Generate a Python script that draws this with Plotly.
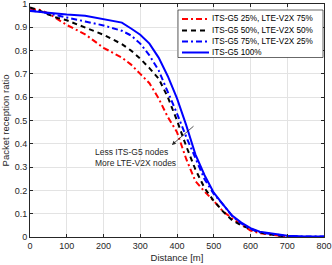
import plotly.graph_objects as go

distance = [0, 25, 50, 75, 100, 150, 200, 250, 275, 300, 325, 350, 375, 400, 425, 450,
            475, 500, 525, 550, 575, 600, 625, 650, 675, 700, 750, 800]

prr_25 = [0.98, 0.975, 0.96, 0.935, 0.91, 0.87, 0.812, 0.77, 0.74, 0.70, 0.66, 0.595, 0.515,
          0.45, 0.335, 0.24, 0.195, 0.155, 0.11, 0.08, 0.055, 0.028, 0.016, 0.01, 0.004,
          0.001, 0.0, 0.0]
prr_50 = [0.985, 0.972, 0.955, 0.94, 0.93, 0.9, 0.868, 0.828, 0.8, 0.765, 0.725, 0.68, 0.6,
          0.5, 0.39, 0.29, 0.21, 0.155, 0.11, 0.072, 0.05, 0.035, 0.02, 0.012, 0.005,
          0.001, 0.0, 0.0]
prr_75 = [0.972, 0.968, 0.96, 0.95, 0.942, 0.925, 0.908, 0.885, 0.865, 0.83, 0.78, 0.715,
          0.625, 0.53, 0.43, 0.335, 0.248, 0.185, 0.14, 0.09, 0.058, 0.035, 0.02, 0.014,
          0.01, 0.004, 0.002, 0.002]
prr_100 = [0.97, 0.966, 0.962, 0.958, 0.955, 0.95, 0.935, 0.92, 0.895, 0.868, 0.83, 0.77,
           0.69, 0.595, 0.48, 0.355, 0.265, 0.19, 0.14, 0.092, 0.062, 0.038, 0.023, 0.018,
           0.013, 0.005, 0.002, 0.002]

series_names = ["ITS-G5 25%, LTE-V2X 75%", "ITS-G5 50%, LTE-V2X 50%",
                "ITS-G5 75%, LTE-V2X 25%", "ITS-G5 100%"]
series_values = [prr_25, prr_50, prr_75, prr_100]
series_colors = ["#ff0000", "#000000", "#0000ff", "#0000ff"]
series_dashes = ["6px,3px,2px,3px", "5px,4px", "6px,3px,2px,3px", "solid"]

annotation_text = "Less ITS-G5 nodes<br>More LTE-V2X nodes"

FONT = "Liberation Sans, Arial, sans-serif"
AX = "#262626"

fig = go.Figure()
for name, vals, color, dash in zip(series_names, series_values, series_colors, series_dashes):
    fig.add_trace(go.Scatter(x=distance, y=vals, mode="lines", name=name,
                             showlegend=False,
                             line=dict(color=color, width=2, dash=dash)))

# legend drawn manually (compact, MATLAB-like)
PL, PR, PT, PB = 30, 324, 4, 237
def px_x(p):
    return (p - PL) / (PR - PL)
def px_y(p):
    return (PB - p) / (PB - PT)

fig.add_shape(type="rect", xref="paper", yref="paper",
              x0=px_x(178), x1=px_x(323), y0=px_y(57.5), y1=px_y(10),
              fillcolor="white", line=dict(color=AX, width=0.7), layer="above")
row_y = [19, 30.5, 41.5, 52.5]
for i, (name, color, dash) in enumerate(zip(series_names, series_colors, series_dashes)):
    fig.add_shape(type="line", xref="paper", yref="paper",
                  x0=px_x(182), x1=px_x(209), y0=px_y(row_y[i]), y1=px_y(row_y[i]),
                  line=dict(color=color, width=2, dash=dash), layer="above")
    fig.add_annotation(x=px_x(210), y=px_y(row_y[i]), xref="paper", yref="paper",
                       xanchor="left", yanchor="middle", showarrow=False, text=name,
                       font=dict(family=FONT, size=8.2, color="#000000"))

fig.add_annotation(x=386, y=0.395, ax=449, ay=0.481, axref="x", ayref="y",
                   xref="x", yref="y", text="", showarrow=True,
                   arrowhead=2, arrowsize=1, arrowwidth=0.8, arrowcolor=AX,
                   standoff=0, startstandoff=0)
fig.add_annotation(x=171, y=0.341, xref="x", yref="y", xanchor="left",
                   yanchor="middle", align="left", showarrow=False,
                   text=annotation_text,
                   font=dict(family=FONT, size=8.5, color=AX))

axis_common = dict(showline=True, linecolor=AX, linewidth=1, mirror="ticks",
                   ticks="inside", ticklen=3, tickcolor=AX, showgrid=True,
                   gridcolor="#e3e3e3", gridwidth=1, zeroline=False,
                   ticklabeloverflow="allow",
                   tickfont=dict(family=FONT, size=9, color=AX))

fig.update_layout(
    width=332, height=265,
    margin=dict(l=PL, r=332 - PR, t=PT, b=265 - PB, autoexpand=False),
    paper_bgcolor="white", plot_bgcolor="white",
    showlegend=False,
    xaxis=dict(range=[0, 800], tickvals=[0, 100, 200, 300, 400, 500, 600, 700, 800],
               title=dict(text="Distance [m]", font=dict(family=FONT, size=9.5, color=AX),
                          standoff=4),
               automargin=False, **axis_common),
    yaxis=dict(range=[0, 1], tickvals=[0, 0.1, 0.2, 0.3, 0.4, 0.5, 0.6, 0.7, 0.8, 0.9, 1],
               ticktext=["0", "0.1", "0.2", "0.3", "0.4", "0.5", "0.6", "0.7", "0.8", "0.9", "1"],
               title=dict(text="Packet reception ratio", font=dict(family=FONT, size=9.5, color=AX),
                          standoff=4),
               automargin=False, **axis_common),
)

fig.write_html("out.html", config={"displayModeBar": False},
               post_script="document.body.style.margin='0';document.body.style.padding='0';")
